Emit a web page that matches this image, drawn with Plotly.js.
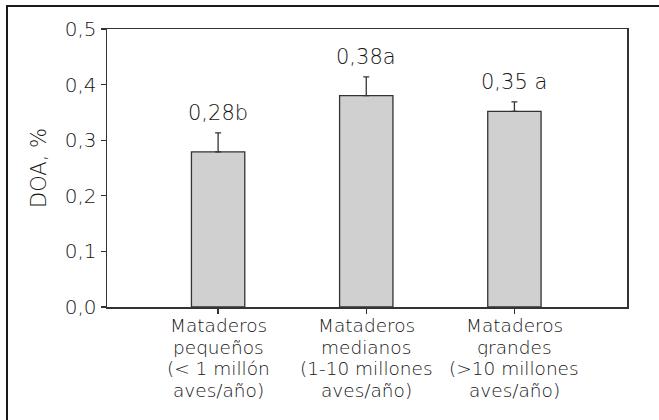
<!DOCTYPE html>
<html>
<head>
<meta charset="utf-8">
<script src="https://cdn.plot.ly/plotly-3.0.1.min.js"></script>
<style>html,body{margin:0;padding:0;background:#fff;}#chart{width:659px;height:420px;}</style>
</head>
<body>
<div id="chart"></div>
<script>
const categoryLines = [
  ["Mataderos", "pequeños", "(< 1 millón", "aves/año)"],
  ["Mataderos", "medianos", "(1-10 millones", "aves/año)"],
  ["Mataderos", "grandes", "(>10 millones", "aves/año)"]
];
const doaValues = [0.279, 0.38, 0.352];
const errorPlus = [0.034, 0.034, 0.017];
const valueLabels = ["0,28b", "0,38a", "0,35 a"];
const yTickVals = [0, 0.1, 0.2, 0.3, 0.4, 0.5];
const yTickText = ["0,0", "0,1", "0,2", "0,3", "0,4", "0,5"];

const FONT = "'DejaVu Sans', sans-serif";
const TXT = "#151515";
const W = 300;

const xPos = categoryLines.map((_, i) => i);

const trace = {
  type: "bar",
  x: xPos,
  y: doaValues,
  width: 0.36,
  marker: {color: "#d0d0d0", line: {color: "#333", width: 1.3}},
  error_y: {type: "data", array: errorPlus, arrayminus: [0,0,0], symmetric: false,
            color: "#333", thickness: 1.3, width: 3},
  hoverinfo: "skip"
};

const annotations = valueLabels.map((t, i) => ({
  x: xPos[i], y: doaValues[i] + errorPlus[i], xref: "x", yref: "y",
  text: t, showarrow: false, yanchor: "bottom", yshift: 6,
  font: {family: FONT, size: 21, color: TXT, weight: W}
}));

categoryLines.forEach((lines, i) => {
  lines.forEach((ln, k) => {
    annotations.push({
      x: xPos[i], y: 0, xref: "x", yref: "paper",
      text: ln, showarrow: false, yanchor: "middle", xanchor: "center",
      height: 19, borderpad: 0,
      yshift: -(18.5 + 21.7 * k),
      font: {family: FONT, size: 18.5, color: TXT, weight: W}
    });
  });
});

const layout = {
  width: 659, height: 420,
  margin: {l: 107, r: 32, t: 29, b: 113},
  paper_bgcolor: "#fff", plot_bgcolor: "#fff",
  showlegend: false,
  font: {family: FONT, size: 19, color: TXT, weight: W},
  xaxis: {
    range: [-0.75, 2.76], tickvals: xPos, showticklabels: false,
    ticks: "outside", ticklen: 5, tickwidth: 1.3, tickcolor: "#333",
    showline: true, linecolor: "#333", linewidth: 1.5, mirror: true,
    showgrid: false, zeroline: false
  },
  yaxis: {
    range: [0, 0.5], tickvals: yTickVals, ticktext: yTickText,
    ticks: "outside", ticklen: 5, tickwidth: 1.3, tickcolor: "#333",
    showline: true, linecolor: "#333", linewidth: 1.5, mirror: true,
    showgrid: false, zeroline: false,
    tickfont: {family: FONT, size: 20, color: TXT, weight: W},
    title: {text: "DOA, %", standoff: 12, font: {family: FONT, size: 21, color: TXT, weight: W}}
  },
  annotations: annotations,
  shapes: [{
    type: "rect", xref: "paper", yref: "paper",
    x0: -0.1923, x1: 1.3, y0: -0.6, y1: 1.0827,
    line: {color: "#1a1a1a", width: 2}, layer: "above"
  }]
};

Plotly.newPlot("chart", [trace], layout, {displayModeBar: false, staticPlot: true});
</script>
</body>
</html>
